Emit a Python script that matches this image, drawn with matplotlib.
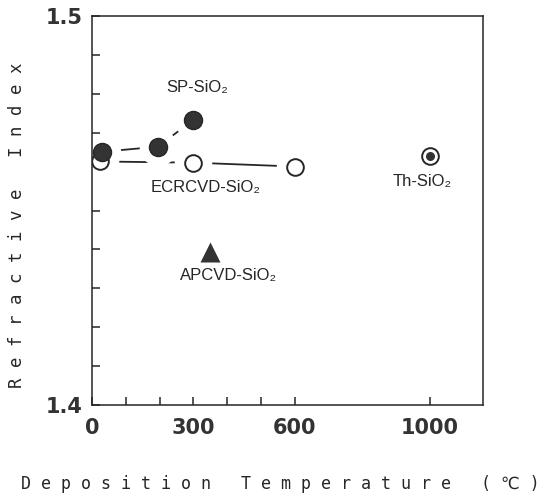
import numpy as np
import matplotlib
matplotlib.use("Agg")
import matplotlib.pyplot as plt
from matplotlib.ticker import FixedLocator, FixedFormatter

# data
sp_temp = [30, 195, 300]
sp_index = [1.4651, 1.4664, 1.4733]
ecr_temp = [25, 300, 600]
ecr_index = [1.4626, 1.4623, 1.4613]
th_temp = [1000]
th_index = [1.4641]
ap_temp = [350]
ap_index = [1.4393]

x_ticks = [0, 100, 200, 300, 400, 500, 600, 1000]
x_ticklabels = ["0", "", "", "300", "", "", "600", "1000"]
y_ticks = [1.40, 1.41, 1.42, 1.43, 1.44, 1.45, 1.46, 1.47, 1.48, 1.49, 1.50]
y_ticklabels = ["1.4", "", "", "", "", "", "", "", "", "", "1.5"]

ink = "#262626"
label_font = ["Liberation Sans", "DejaVu Sans"]
mono = ["DejaVu Sans Mono", "DejaVu Sans"]

fig = plt.figure(figsize=(5.41, 4.97), dpi=100)
ax = fig.add_axes([92 / 541, 1 - 405 / 497, (483 - 92) / 541, (405 - 16) / 497])

# lines first, then white halos to open gaps round the markers
ax.plot(sp_temp, sp_index, color=ink, lw=1.3, zorder=1)
ax.plot(ecr_temp, ecr_index, color=ink, lw=1.3, zorder=1)
for xs, ys in [(sp_temp, sp_index), (ecr_temp, ecr_index)]:
    ax.plot(xs, ys, ls="none", marker="o", ms=27, mfc="white", mec="none", zorder=2)

ax.plot(ecr_temp, ecr_index, ls="none", marker="o", ms=12, mfc="white",
        mec=ink, mew=1.4, zorder=3)
ax.plot(sp_temp, sp_index, ls="none", marker="o", ms=13, mfc="#333333",
        mec=ink, mew=1, zorder=4)
ax.plot(th_temp, th_index, ls="none", marker="o", ms=12, mfc="white",
        mec=ink, mew=1.4, zorder=3)
ax.plot(th_temp, th_index, ls="none", marker="o", ms=6.5, mfc="#333333",
        mec="none", zorder=4)
ax.plot(ap_temp, ap_index, ls="none", marker="^", ms=14, mfc="#333333",
        mec="none", zorder=3)

ax.text(311, 1.4815, "SP-SiO₂", family=label_font, fontsize=12, color=ink,
        ha="center", va="center")
ax.text(337, 1.4559, "ECRCVD-SiO₂", family=label_font, fontsize=12, color=ink,
        ha="center", va="center")
ax.text(976, 1.4574, "Th-SiO₂", family=label_font, fontsize=12, color=ink,
        ha="center", va="center")
ax.text(405, 1.4333, "APCVD-SiO₂", family=label_font, fontsize=12, color=ink,
        ha="center", va="center")

ax.set_xlim(0, 1157)
ax.set_ylim(1.40, 1.50)
ax.xaxis.set_major_locator(FixedLocator(x_ticks))
ax.xaxis.set_major_formatter(FixedFormatter(x_ticklabels))
ax.yaxis.set_major_locator(FixedLocator(y_ticks))
ax.yaxis.set_major_formatter(FixedFormatter(y_ticklabels))
ax.tick_params(direction="in", length=6, width=1.1, color=ink,
               labelsize=15, labelcolor="#333333")
ax.tick_params(axis="x", pad=9)
ax.tick_params(axis="y", pad=7)
for lab in ax.get_xticklabels() + ax.get_yticklabels():
    lab.set_fontweight("bold")
for s in ax.spines.values():
    s.set_linewidth(1.1)
    s.set_color(ink)

fig.text(280 / 541, 1 - 484 / 497, "D e p o s i t i o n   T e m p e r a t u r e   ( ℃ )",
         family=mono, fontsize=12, color=ink, ha="center", va="center")
fig.text(17 / 541, 1 - 225 / 497, "R e f r a c t i v e   I n d e x",
         family=mono, fontsize=12.5, color=ink, ha="center", va="center",
         rotation=90)

fig.savefig("out.png", dpi=100)
